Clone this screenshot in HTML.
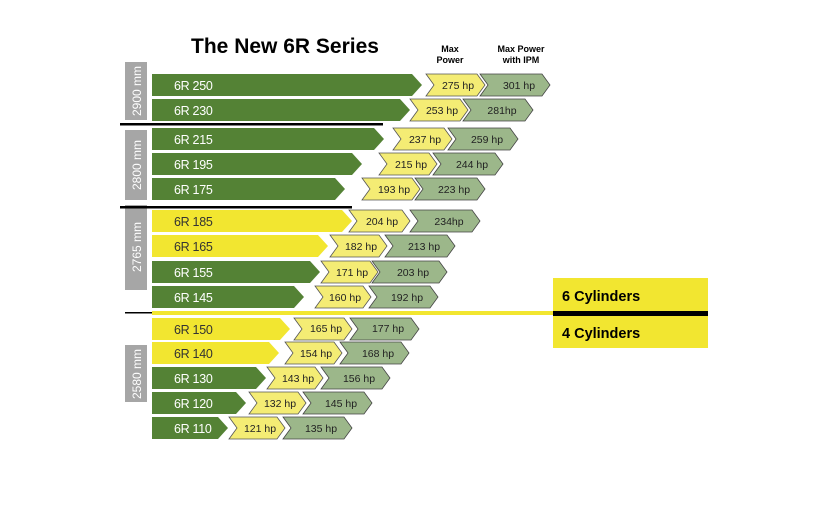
<!DOCTYPE html>
<html><head><meta charset="utf-8"><style>
html,body{margin:0;padding:0;background:#fff}
svg{display:block}
text{font-family:"Liberation Sans",sans-serif}
.lb{fill:#fff;font-size:12.5px;letter-spacing:-0.3px}
.hp{fill:#222;font-size:10.5px;text-anchor:middle}
.G{fill:#548235}.Y{fill:#f2e630}
.cy{fill:#f4ec74;stroke:#555;stroke-width:.8}
.cg{fill:#9cb78a;stroke:#444;stroke-width:.8}
</style></head><body>
<svg width="825" height="506" viewBox="0 0 825 506" xmlns="http://www.w3.org/2000/svg">
<rect width="825" height="506" fill="#fff"/>
<text x="285" y="53" font-size="21" font-weight="bold" text-anchor="middle" fill="#000">The New 6R Series</text>
<text x="450" y="52" font-size="9" font-weight="bold" text-anchor="middle">Max</text>
<text x="450" y="63" font-size="9" font-weight="bold" text-anchor="middle">Power</text>
<text x="521" y="52" font-size="9" font-weight="bold" text-anchor="middle">Max Power</text>
<text x="521" y="63" font-size="9" font-weight="bold" text-anchor="middle">with IPM</text>

<rect x="125" y="62" width="22" height="58" fill="#a6a6a6"/>
<rect x="125" y="130" width="22" height="70" fill="#a6a6a6"/>
<rect x="125" y="205" width="22" height="85" fill="#a6a6a6"/>
<rect x="125" y="345" width="22" height="57" fill="#a6a6a6"/>
<text transform="translate(141,91) rotate(-90)" fill="#fff" font-size="12" text-anchor="middle">2900 mm</text>
<text transform="translate(141,165) rotate(-90)" fill="#fff" font-size="12" text-anchor="middle">2800 mm</text>
<text transform="translate(141,247) rotate(-90)" fill="#fff" font-size="12" text-anchor="middle">2765 mm</text>
<text transform="translate(141,374) rotate(-90)" fill="#fff" font-size="12" text-anchor="middle">2580 mm</text>

<rect x="120" y="123" width="263" height="2.5" fill="#000"/>
<rect x="120" y="206" width="232" height="2.5" fill="#000"/>
<rect x="125" y="312" width="27" height="1.5" fill="#000"/>
<rect x="152" y="311" width="403" height="4" fill="#f2e630"/>
<rect x="553" y="278" width="155" height="70" fill="#f2e630"/>
<rect x="553" y="311" width="155" height="5" fill="#000"/>
<text x="562" y="301" font-size="14.5" font-weight="bold">6 Cylinders</text>
<text x="562" y="338" font-size="14.5" font-weight="bold">4 Cylinders</text>

<polygon class="G" points="152,74 412,74 422,85 412,96 152,96"/><text class="lb" x="174" y="90">6R 250</text>
<polygon class="cy" points="426,74 477,74 485,85 477,96 426,96 434,85"/><text class="hp" x="458" y="89">275 hp</text>
<polygon class="cg" points="480,74 542,74 550,85 542,96 480,96 488,85"/><text class="hp" x="519" y="89">301 hp</text>

<polygon class="G" points="152,99 400,99 410,110 400,121 152,121"/><text class="lb" x="174" y="115">6R 230</text>
<polygon class="cy" points="410,99 460,99 468,110 460,121 410,121 418,110"/><text class="hp" x="442" y="114">253 hp</text>
<polygon class="cg" points="463,99 525,99 533,110 525,121 463,121 471,110"/><text class="hp" x="502" y="114">281hp</text>

<polygon class="G" points="152,128 374,128 384,139 374,150 152,150"/><text class="lb" x="174" y="144">6R 215</text>
<polygon class="cy" points="393,128 444,128 452,139 444,150 393,150 401,139"/><text class="hp" x="425" y="143">237 hp</text>
<polygon class="cg" points="448,128 510,128 518,139 510,150 448,150 456,139"/><text class="hp" x="487" y="143">259 hp</text>

<polygon class="G" points="152,153 352,153 362,164 352,175 152,175"/><text class="lb" x="174" y="169">6R 195</text>
<polygon class="cy" points="379,153 429,153 437,164 429,175 379,175 387,164"/><text class="hp" x="411" y="168">215 hp</text>
<polygon class="cg" points="433,153 495,153 503,164 495,175 433,175 441,164"/><text class="hp" x="472" y="168">244 hp</text>

<polygon class="G" points="152,178 335,178 345,189 335,200 152,200"/><text class="lb" x="174" y="194">6R 175</text>
<polygon class="cy" points="362,178 412,178 420,189 412,200 362,200 370,189"/><text class="hp" x="394" y="193">193 hp</text>
<polygon class="cg" points="415,178 477,178 485,189 477,200 415,200 423,189"/><text class="hp" x="454" y="193">223 hp</text>

<polygon class="Y" points="152,210 342,210 352,221 342,232 152,232"/><text class="lb" x="174" y="226" style="fill:#333">6R 185</text>
<polygon class="cy" points="349,210 402,210 410,221 402,232 349,232 357,221"/><text class="hp" x="382" y="225">204 hp</text>
<polygon class="cg" points="410,210 472,210 480,221 472,232 410,232 418,221"/><text class="hp" x="449" y="225">234hp</text>

<polygon class="Y" points="152,235 318,235 328,246 318,257 152,257"/><text class="lb" x="174" y="251" style="fill:#333">6R 165</text>
<polygon class="cy" points="330,235 379,235 387,246 379,257 330,257 338,246"/><text class="hp" x="361" y="250">182 hp</text>
<polygon class="cg" points="385,235 447,235 455,246 447,257 385,257 393,246"/><text class="hp" x="424" y="250">213 hp</text>

<polygon class="G" points="152,261 310,261 320,272 310,283 152,283"/><text class="lb" x="174" y="277">6R 155</text>
<polygon class="cy" points="321,261 370,261 378,272 370,283 321,283 329,272"/><text class="hp" x="352" y="276">171 hp</text>
<polygon class="cg" points="372,261 439,261 447,272 439,283 372,283 380,272"/><text class="hp" x="413" y="276">203 hp</text>

<polygon class="G" points="152,286 294,286 304,297 294,308 152,308"/><text class="lb" x="174" y="302">6R 145</text>
<polygon class="cy" points="315,286 363,286 371,297 363,308 315,308 323,297"/><text class="hp" x="345" y="301">160 hp</text>
<polygon class="cg" points="369,286 430,286 438,297 430,308 369,308 377,297"/><text class="hp" x="407" y="301">192 hp</text>

<polygon class="Y" points="152,318 280,318 290,329 280,340 152,340"/><text class="lb" x="174" y="334" style="fill:#333">6R 150</text>
<polygon class="cy" points="294,318 344,318 352,329 344,340 294,340 302,329"/><text class="hp" x="326" y="332">165 hp</text>
<polygon class="cg" points="350,318 411,318 419,329 411,340 350,340 358,329"/><text class="hp" x="388" y="332">177 hp</text>

<polygon class="Y" points="152,342 269,342 279,353 269,364 152,364"/><text class="lb" x="174" y="358" style="fill:#333">6R 140</text>
<polygon class="cy" points="285,342 334,342 342,353 334,364 285,364 293,353"/><text class="hp" x="316" y="357">154 hp</text>
<polygon class="cg" points="340,342 401,342 409,353 401,364 340,364 348,353"/><text class="hp" x="378" y="357">168 hp</text>

<polygon class="G" points="152,367 256,367 266,378 256,389 152,389"/><text class="lb" x="174" y="383">6R 130</text>
<polygon class="cy" points="267,367 315,367 323,378 315,389 267,389 275,378"/><text class="hp" x="298" y="382">143 hp</text>
<polygon class="cg" points="321,367 382,367 390,378 382,389 321,389 329,378"/><text class="hp" x="359" y="382">156 hp</text>

<polygon class="G" points="152,392 236,392 246,403 236,414 152,414"/><text class="lb" x="174" y="408">6R 120</text>
<polygon class="cy" points="249,392 298,392 306,403 298,414 249,414 257,403"/><text class="hp" x="280" y="407">132 hp</text>
<polygon class="cg" points="303,392 364,392 372,403 364,414 303,414 311,403"/><text class="hp" x="341" y="407">145 hp</text>

<polygon class="G" points="152,417 218,417 228,428 218,439 152,439"/><text class="lb" x="174" y="433">6R 110</text>
<polygon class="cy" points="229,417 277,417 285,428 277,439 229,439 237,428"/><text class="hp" x="260" y="432">121 hp</text>
<polygon class="cg" points="283,417 344,417 352,428 344,439 283,439 291,428"/><text class="hp" x="321" y="432">135 hp</text>
</svg>
</body></html>
